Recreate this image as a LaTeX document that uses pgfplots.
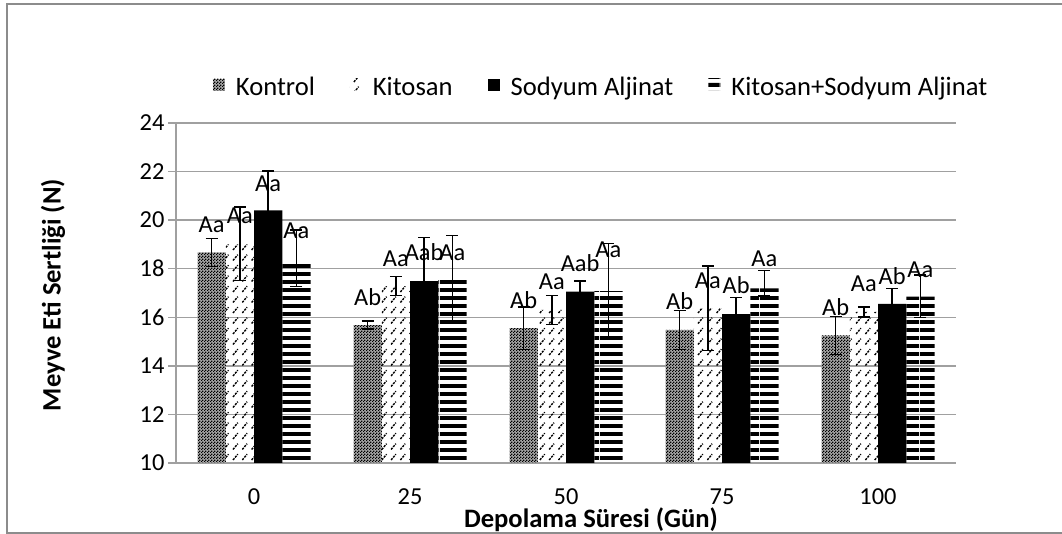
\documentclass[border=0pt]{standalone}
\usepackage{fontspec}
\setmainfont{Carlito}
\usepackage{pgfplots}
\usepackage{pgfplotstable}
\pgfplotsset{compat=1.18}
\usetikzlibrary{patterns}
\definecolor{axisgray}{HTML}{A0A0A0}
\definecolor{framegray}{HTML}{8C8C8C}
\newcommand\ticksize{\fontsize{24.4bp}{28bp}\selectfont}
\newcommand\legsize{\fontsize{26.6bp}{30bp}\selectfont}

\pgfdeclarepatternformonly{finecheck}{\pgfpointorigin}{\pgfpoint{3bp}{3bp}}{\pgfpoint{3bp}{3bp}}{%
  \pgfpathrectangle{\pgfpointorigin}{\pgfpoint{1.5bp}{1.5bp}}%
  \pgfpathrectangle{\pgfpoint{1.5bp}{1.5bp}}{\pgfpoint{1.5bp}{1.5bp}}%
  \pgfusepath{fill}}
\pgfdeclarepatternformonly{dashdiag}{\pgfpoint{-1bp}{-1bp}}{\pgfpoint{10.3bp}{11.5bp}}{\pgfpoint{9.3bp}{10.5bp}}{%
  \pgfsetlinewidth{1.4bp}%
  \pgfsetdash{{2.2bp}{1.1bp}}{0bp}%
  \pgfpathmoveto{\pgfpoint{0.5bp}{0.5bp}}\pgfpathlineto{\pgfpoint{5.3bp}{6.3bp}}%
  \pgfusepath{stroke}}
\pgfdeclarepatternformonly{hstripes}{\pgfpointorigin}{\pgfpoint{40bp}{8.3bp}}{\pgfpoint{40bp}{8.3bp}}{%
  \pgfpathrectangle{\pgfpointorigin}{\pgfpoint{40bp}{4.3bp}}%
  \pgfusepath{fill}}

\pgfplotstableread{
x y ep em lab dy
0 18.67 0.58 0.58 Aa 20
1 15.68 0.16 0.16 Ab 20
2 15.55 0.88 0.88 Ab 20
3 15.48 0.80 0.80 Ab 20
4 15.25 0.78 0.78 Ab 20
}\kontrol
\pgfplotstableread{
x y ep em lab dy
0 19.00 1.55 1.48 Aa 21
1 17.28 0.39 0.39 Aa 20
2 16.30 0.60 0.60 Aa 20
3 16.38 1.74 1.74 Aa 20
4 16.22 0.21 0.21 Aa 20
}\kitosan
\pgfplotstableread{
x y ep em lab dy
0 20.40 1.63 1.63 Aa 19
1 17.49 1.80 1.80 Aab 21
2 17.06 0.44 0.44 Aab 20
3 16.13 0.69 0.69 Ab 21
4 16.55 0.64 0.64 Ab 19
}\sodyum
\pgfplotstableread{
x y ep em lab dy
0 18.30 1.29 1.04 Aa 23
1 17.53 1.83 1.71 Aa 20
2 17.08 1.96 1.91 Aa 34
3 17.19 0.73 0.31 Aa 22
4 16.85 0.89 0.85 Aa 19
}\ksa

\pgfplotsset{
  myerr/.style={
    error bars/y dir=both, error bars/y explicit,
    error bars/error bar style={draw=black, solid, line width=1.5bp},
    error bars/error mark options={rotate=90, draw=black, solid, mark size=6bp, line width=1.5bp},
  }
}

\begin{document}
\begin{tikzpicture}[x=1bp,y=1bp]
\useasboundingbox (0,0) rectangle (1062,534);
\draw[framegray, line width=1.5bp] (1075,530) -- (7,530) -- (7,1) -- (1075,1);
\begin{axis}[
  at={(176bp,71bp)}, anchor=south west,
  scale only axis, width=780bp, height=340bp,
  xmin=-0.5, xmax=4.5, ymin=10, ymax=24,
  ytick={10,12,...,24},
  xtick={0,1,2,3,4}, xticklabels={0,25,50,75,100},
  axis lines*=left,
  axis line style={axisgray, line width=1.5bp},
  tick align=outside, major tick length=8bp,
  ytick style={axisgray, line width=1.5bp},
  xtick style={draw=none},
  ymajorgrids, grid style={axisgray, line width=1.5bp},
  ticklabel style={font=\ticksize, text=black},
  /pgf/number format/assume math mode=true,
  xticklabel style={yshift=-14bp},
  ybar=0pt, bar width=28.25bp,
  ylabel={\bfseries Meyve Eti Sertliği (N)},
  ylabel style={font=\legsize, at={(rel axis cs:-0.1577,0.494)}, anchor=center},
  xlabel={\bfseries Depolama Süresi (Gün)},
  xlabel style={font=\legsize, at={(rel axis cs:0.532,-0.191)}, anchor=base},
  legend style={at={(0.545,1.106)}, anchor=center, draw=none, fill=none,
    legend columns=-1, font=\legsize,
    /tikz/every odd column/.append style={column sep=9bp},
    /tikz/every even column/.append style={column sep=33bp}},
  legend image code/.code={\path[#1, draw=none] (0bp,-4bp) rectangle (12bp,8bp);},
  point meta=explicit symbolic,
  nodes near coords,
  visualization depends on={\thisrow{dy} \as \dy},
  every node near coord/.append style={anchor=base, yshift=\dy bp, font=\ticksize, text=black, inner sep=0pt},
]
\addplot[draw=none, fill=black!35, postaction={pattern=finecheck, pattern color=black}, myerr]
  table[x=x, y=y, y error plus=ep, y error minus=em, meta=lab] {\kontrol};
\addplot[draw=none, pattern=dashdiag, pattern color=black, myerr]
  table[x=x, y=y, y error plus=ep, y error minus=em, meta=lab] {\kitosan};
\addplot[draw=none, fill=black, myerr]
  table[x=x, y=y, y error plus=ep, y error minus=em, meta=lab] {\sodyum};
\addplot[draw=none, pattern=hstripes, pattern color=black, myerr]
  table[x=x, y=y, y error plus=ep, y error minus=em, meta=lab] {\ksa};
\legend{Kontrol, Kitosan, Sodyum Aljinat, Kitosan+Sodyum Aljinat}
\end{axis}
\end{tikzpicture}
\end{document}
